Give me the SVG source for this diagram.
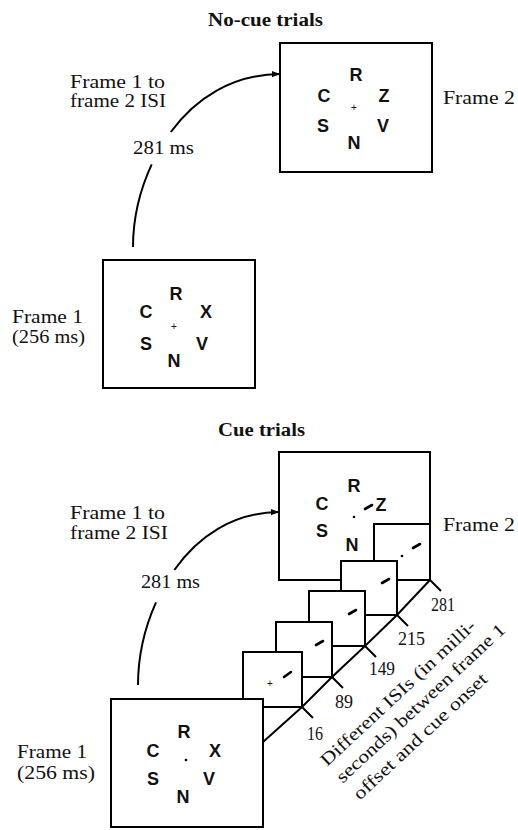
<svg xmlns="http://www.w3.org/2000/svg" width="518" height="830" viewBox="0 0 518 830">
<style>
.bg{fill:#fff}
.box{fill:#fff;stroke:#000;stroke-width:2}
.lbl{font-family:"Liberation Serif","Times New Roman",serif;font-size:18px;fill:#111}
.ttl{font-family:"Liberation Serif","Times New Roman",serif;font-size:18px;font-weight:bold;fill:#111}
.let{font-family:"Liberation Sans",Arial,sans-serif;font-size:18px;font-weight:bold;fill:#111;text-anchor:middle}
.fix{font-family:"Liberation Sans",Arial,sans-serif;font-size:10px;fill:#111;text-anchor:middle}
.cue{stroke:#000;stroke-width:2.6;stroke-linecap:round;fill:none}
.arc{fill:none;stroke:#000;stroke-width:2}
.axis{fill:none;stroke:#000;stroke-width:2}
</style>
<defs>
<marker id="ah" markerUnits="userSpaceOnUse" viewBox="0 0 10 10" refX="10" refY="5" markerWidth="10" markerHeight="8" orient="auto">
<path d="M0,1 L10,5 L0,9 z" fill="#000"/>
</marker>
</defs>
<rect class="bg" x="0" y="0" width="518" height="830"/>

<text class="ttl" x="208" y="26" textLength="115" lengthAdjust="spacingAndGlyphs">No-cue trials</text>
<text class="ttl" x="218" y="436" textLength="87" lengthAdjust="spacingAndGlyphs">Cue trials</text>

<g id="nocue-frame2">
<rect class="box" x="280" y="43" width="152" height="129"/>
<text class="let" x="356" y="81">R</text>
<text class="let" x="324" y="102">C</text>
<text class="let" x="384" y="102">Z</text>
<text class="fix" x="354" y="111">+</text>
<text class="let" x="323" y="132">S</text>
<text class="let" x="383" y="132">V</text>
<text class="let" x="354" y="149">N</text>
<text class="lbl" x="443" y="104" textLength="72" lengthAdjust="spacingAndGlyphs">Frame 2</text>
</g>

<g id="nocue-frame1">
<rect class="box" x="103" y="260" width="152" height="128"/>
<text class="let" x="176" y="300">R</text>
<text class="let" x="146" y="318">C</text>
<text class="let" x="206" y="318">X</text>
<text class="fix" x="174" y="330">+</text>
<text class="let" x="146" y="350">S</text>
<text class="let" x="202" y="350">V</text>
<text class="let" x="174" y="367">N</text>
<text class="lbl" x="12" y="323" textLength="71" lengthAdjust="spacingAndGlyphs">Frame 1</text>
<text class="lbl" x="12" y="343" textLength="73" lengthAdjust="spacingAndGlyphs">(256 ms)</text>
</g>

<g id="nocue-isi">
<text class="lbl" x="70" y="88" textLength="95" lengthAdjust="spacingAndGlyphs">Frame 1 to</text>
<text class="lbl" x="70" y="107" textLength="96" lengthAdjust="spacingAndGlyphs">frame 2 ISI</text>
<text class="lbl" x="133" y="154" textLength="61" lengthAdjust="spacingAndGlyphs">281 ms</text>
</g>

<g id="cue-frame2">
<rect class="box" x="279" y="452" width="151" height="128"/>
<text class="let" x="354" y="492">R</text>
<text class="let" x="322" y="510">C</text>
<text class="let" x="381" y="511">Z</text>
<line class="cue" x1="365" y1="509" x2="372" y2="505"/>
<circle cx="354" cy="517" r="1.3" fill="#000"/>
<text class="let" x="322" y="537">S</text>
<text class="let" x="352" y="551">N</text>
<text class="lbl" x="443" y="531" textLength="72" lengthAdjust="spacingAndGlyphs">Frame 2</text>
</g>

<g id="cue-281">
<rect class="box" x="374" y="524" width="56" height="56"/>
<line class="cue" x1="413" y1="548" x2="420" y2="544"/>
<circle cx="402" cy="556" r="1.3" fill="#000"/>
</g>
<g id="cue-215">
<rect class="box" x="341" y="561" width="56" height="54"/>
<line class="cue" x1="382" y1="583" x2="389" y2="579"/>
</g>
<g id="cue-149">
<rect class="box" x="309" y="591" width="56" height="55"/>
<line class="cue" x1="349" y1="614" x2="356" y2="610"/>
</g>
<g id="cue-89">
<rect class="box" x="276" y="622" width="56" height="55"/>
<line class="cue" x1="316" y1="645" x2="323" y2="641"/>
</g>
<g id="cue-16">
<rect class="box" x="243" y="652" width="59" height="55"/>
<line class="cue" x1="284" y1="677" x2="291" y2="672"/>
<text class="fix" x="270" y="687">+</text>
</g>

<g id="cue-frame1">
<rect class="box" x="111" y="699" width="152" height="128"/>
<text class="let" x="184" y="738">R</text>
<text class="let" x="153" y="757">C</text>
<text class="let" x="215" y="757">X</text>
<circle cx="186" cy="760" r="1.3" fill="#000"/>
<text class="let" x="153" y="785">S</text>
<text class="let" x="209" y="785">V</text>
<text class="let" x="183" y="803">N</text>
<text class="lbl" x="17" y="758" textLength="70" lengthAdjust="spacingAndGlyphs">Frame 1</text>
<text class="lbl" x="17" y="779" textLength="78" lengthAdjust="spacingAndGlyphs">(256 ms)</text>
</g>

<g id="cue-isi">
<text class="lbl" x="70" y="519" textLength="95" lengthAdjust="spacingAndGlyphs">Frame 1 to</text>
<text class="lbl" x="70" y="539" textLength="98" lengthAdjust="spacingAndGlyphs">frame 2 ISI</text>
<text class="lbl" x="141" y="588" textLength="59" lengthAdjust="spacingAndGlyphs">281 ms</text>
</g>

<g id="isi-axis">
<polyline class="axis" points="263,742 302,707 332,677 365,646 397,615 430,580"/>
<path class="axis" d="M302,707 l11,11 M332,677 l11,11 M365,646 l11,11 M397,615 l11,11 M430,580 l11,11"/>
<text class="lbl" x="307" y="740" textLength="16" lengthAdjust="spacingAndGlyphs">16</text>
<text class="lbl" x="335" y="708" textLength="18" lengthAdjust="spacingAndGlyphs">89</text>
<text class="lbl" x="369" y="675" textLength="26" lengthAdjust="spacingAndGlyphs">149</text>
<text class="lbl" x="398" y="645" textLength="27" lengthAdjust="spacingAndGlyphs">215</text>
<text class="lbl" x="431" y="611" textLength="24" lengthAdjust="spacingAndGlyphs">281</text>
<g transform="translate(327,767) rotate(-43)">
<text class="lbl" x="0" y="0" textLength="205" lengthAdjust="spacingAndGlyphs">Different ISIs (in milli-</text>
<text class="lbl" x="0" y="23" textLength="224" lengthAdjust="spacingAndGlyphs">seconds) between frame 1</text>
<text class="lbl" x="1" y="47" textLength="176" lengthAdjust="spacingAndGlyphs">offset and cue onset</text>
</g>
</g>

<g id="connectors">
<path class="arc" d="M133,247 C133,220 139.4,190.9 151.7,164.3"/>
<path class="arc" d="M170.8,132 C195.5,98.5 232,74.5 280,74" marker-end="url(#ah)"/>
<path class="arc" d="M138,685 C138,658 144.1,628.9 156,602.3"/>
<path class="arc" d="M174.3,570 C198,536.5 233,512.5 279,512" marker-end="url(#ah)"/>
</g>
</svg>
